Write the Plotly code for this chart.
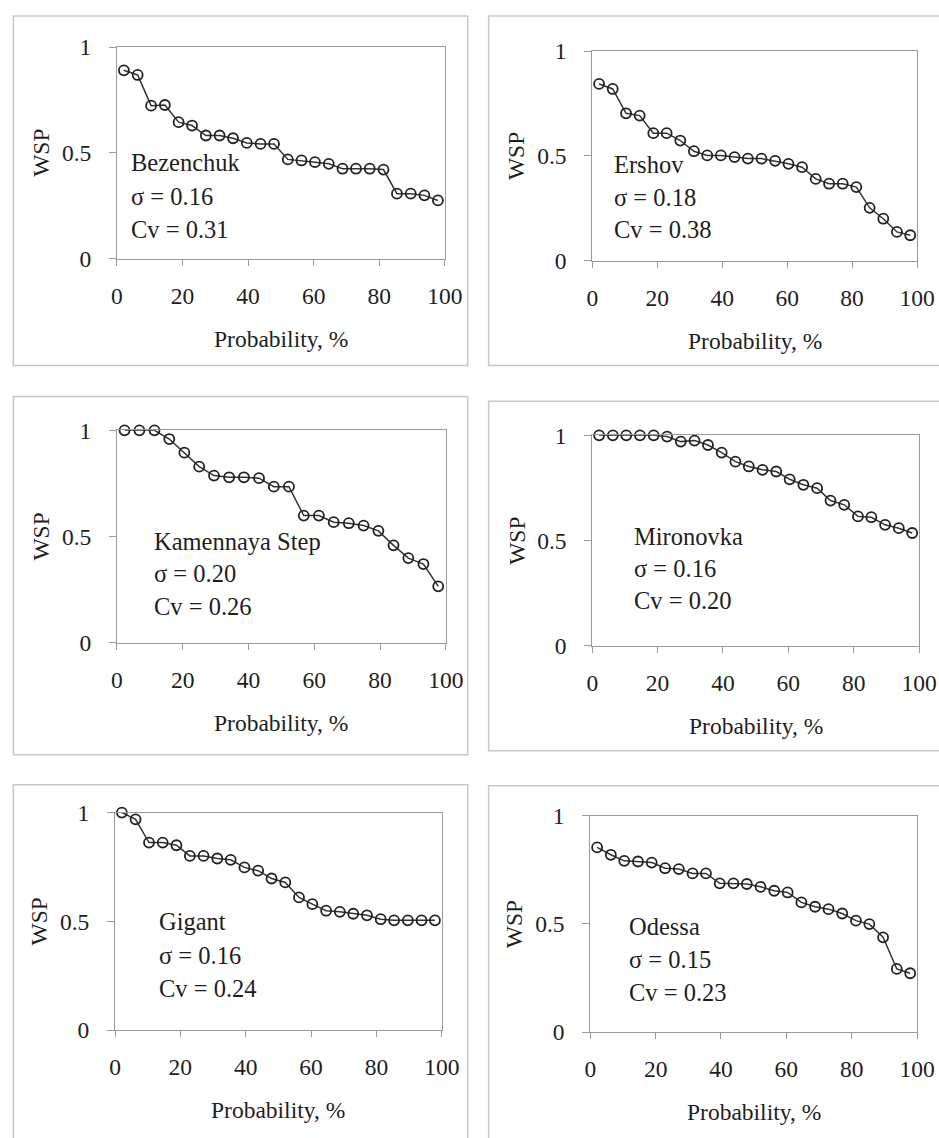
import plotly.graph_objects as go

# ---------------- data ----------------
prob_24 = [2.1, 6.3, 10.4, 14.6, 18.8, 22.9, 27.1, 31.3, 35.4, 39.6, 43.8, 47.9,
           52.1, 56.3, 60.4, 64.6, 68.8, 72.9, 77.1, 81.3, 85.4, 89.6, 93.8, 97.9]
prob_22 = [2.3, 6.8, 11.4, 15.9, 20.5, 25.0, 29.5, 34.1, 38.6, 43.2, 47.7,
           52.3, 56.8, 61.4, 65.9, 70.5, 75.0, 79.5, 84.1, 88.6, 93.2, 97.7]

wsp_bezenchuk = [0.89, 0.868, 0.723, 0.726, 0.645, 0.629, 0.582, 0.582, 0.569, 0.547, 0.542, 0.542,
                 0.469, 0.464, 0.456, 0.448, 0.425, 0.425, 0.425, 0.421, 0.307, 0.307, 0.299, 0.275]
wsp_ershov = [0.843, 0.819, 0.703, 0.692, 0.608, 0.608, 0.573, 0.522, 0.502, 0.502, 0.494, 0.487,
              0.487, 0.476, 0.462, 0.446, 0.390, 0.367, 0.367, 0.351, 0.252, 0.200, 0.137, 0.121]
wsp_kamennaya = [1.0, 1.0, 1.0, 0.959, 0.895, 0.829, 0.787, 0.779, 0.779, 0.775, 0.735,
                 0.735, 0.599, 0.599, 0.568, 0.563, 0.552, 0.527, 0.459, 0.399, 0.371, 0.266]
wsp_mironovka = [1.0, 1.0, 1.0, 1.0, 1.0, 0.994, 0.970, 0.975, 0.954, 0.918, 0.875, 0.852,
                 0.836, 0.828, 0.791, 0.765, 0.749, 0.690, 0.670, 0.615, 0.611, 0.575, 0.559, 0.536]
wsp_gigant = [1.0, 0.969, 0.862, 0.862, 0.850, 0.801, 0.801, 0.789, 0.783, 0.748, 0.733, 0.697,
              0.679, 0.610, 0.579, 0.549, 0.544, 0.535, 0.528, 0.510, 0.505, 0.505, 0.505, 0.505]
wsp_odessa = [0.853, 0.819, 0.791, 0.788, 0.783, 0.757, 0.753, 0.733, 0.733, 0.687, 0.687, 0.684,
              0.671, 0.653, 0.645, 0.599, 0.579, 0.568, 0.548, 0.515, 0.499, 0.438, 0.292, 0.272]

stations = ["Bezenchuk", "Ershov", "Kamennaya Step", "Mironovka", "Gigant", "Odessa"]
sigmas = ["0.16", "0.18", "0.20", "0.16", "0.16", "0.15"]
cvs = ["0.31", "0.38", "0.26", "0.20", "0.24", "0.23"]
x_series = [prob_24, prob_24, prob_22, prob_24, prob_24, prob_24]
y_series = [wsp_bezenchuk, wsp_ershov, wsp_kamennaya, wsp_mironovka, wsp_gigant, wsp_odessa]

x_ticks = [0, 20, 40, 60, 80, 100]
y_ticks = [0, 0.5, 1]
y_tick_text = ["0", "0.5", "1"]
x_title = "Probability, %"
y_title = "WSP"

# ---------------- layout (pixels, as measured on the target) ----------------
W, H = 939, 1138
SX, OX, SY, OY = 0.978, 5.6, 0.979, 8.9   # observed capture transform compensation


def fx(px):
    return (px - OX) / SX / W


def fy(py):
    return 1 - (py - OY) / SY / H


plot_px = [  # x0, x1, ytop, ybottom
    (117, 446, 43, 255),
    (594, 920, 47, 257),
    (117, 447, 427, 640),
    (594, 922, 432, 643),
    (115, 443, 810, 1028),
    (592, 920, 813, 1030),
]
box_px = [
    (13, 469, 12, 362),
    (490, 960, 12, 362),
    (13, 469, 393, 752),
    (490, 960, 398, 748),
    (13, 469, 782, 1160),
    (490, 960, 783, 1160),
]
# label anchor positions (data coords: x, y of first line, line step)
label_pos = [
    (3.6, 0.452, 0.158),
    (6.2, 0.458, 0.155),
    (10.6, 0.479, 0.153),
    (12.2, 0.520, 0.153),
    (12.8, 0.498, 0.154),
    (11.3, 0.486, 0.152),
]

FONT = "Liberation Serif, Times New Roman, serif"
TXT = "#1e1e1e"
AX = "#9a9a9a"
FS_TICK = 23.5
FS_TITLE = 23.5
FS_LABEL = 24.5

fig = go.Figure()
layout = dict(
    autosize=True,
    margin=dict(l=0, r=0, t=0, b=0),
    paper_bgcolor="white", plot_bgcolor="white",
    showlegend=False,
    font=dict(family=FONT, color=TXT, size=22),
)
annotations = []
shapes = []

for i in range(6):
    k = "" if i == 0 else str(i + 1)
    x0, x1, yt, yb = plot_px[i]
    fig.add_trace(go.Scatter(
        x=x_series[i], y=y_series[i], mode="lines+markers",
        xaxis="x" + k, yaxis="y" + k,
        line=dict(color="#333333", width=1.5),
        marker=dict(symbol="circle-open", size=10, color="#222222",
                    line=dict(width=1.8, color="#222222")),
        cliponaxis=False,
    ))
    layout["xaxis" + k] = dict(
        domain=[fx(x0), fx(x1)], range=[0, 100], anchor="y" + k,
        tickvals=x_ticks, ticks="outside", ticklen=6, tickcolor=AX,
        showline=True, linecolor=AX, linewidth=1, mirror=True,
        showgrid=False, zeroline=False, ticklabelstandoff=10,
        tickfont=dict(family=FONT, size=FS_TICK, color=TXT),
    )
    layout["yaxis" + k] = dict(
        domain=[fy(yb), fy(yt)], range=[0, 1], anchor="x" + k,
        tickvals=y_ticks, ticktext=y_tick_text, ticks="outside", ticklen=7, tickcolor=AX,
        showline=True, linecolor=AX, linewidth=1, mirror=True,
        showgrid=False, zeroline=False, ticklabelstandoff=13,
        tickfont=dict(family=FONT, size=FS_TICK, color=TXT),
    )
    # axis titles
    annotations.append(dict(
        text=x_title, xref="x" + k + " domain", yref="y" + k + " domain",
        x=0.5, y=0, yshift=-80, xanchor="center", yanchor="middle", showarrow=False,
        font=dict(family=FONT, size=FS_TITLE, color=TXT)))
    annotations.append(dict(
        text=y_title, xref="x" + k + " domain", yref="y" + k + " domain",
        x=0, y=0.5, xshift=-76, xanchor="center", yanchor="middle", showarrow=False,
        textangle=-90, font=dict(family=FONT, size=FS_TITLE, color=TXT)))
    # station labels
    lx, ly, step = label_pos[i]
    lines = [stations[i], "\u03c3 = " + sigmas[i], "Cv = " + cvs[i]]
    for j, t in enumerate(lines):
        annotations.append(dict(
            text=t, xref="x" + k, yref="y" + k, x=lx, y=ly - j * step,
            xanchor="left", yanchor="middle", showarrow=False,
            font=dict(family=FONT, size=FS_LABEL, color=TXT)))
    # panel box
    bx0, bx1, by0, by1 = box_px[i]
    shapes.append(dict(
        type="rect", xref="paper", yref="paper",
        x0=fx(bx0), x1=fx(bx1), y0=fy(by1), y1=fy(by0),
        line=dict(color="#c8c8c8", width=1.5), layer="below"))

layout["annotations"] = annotations
layout["shapes"] = shapes
fig.update_layout(**layout)
post = ("document.documentElement.style.margin='0px';"
        "document.body.style.margin='0px';document.body.style.overflow='hidden';"
        "var gd=document.getElementById('{plot_id}');"
        "gd.style.width='100vw';gd.style.height='100vh';"
        "Plotly.Plots.resize(gd);")
fig.write_html("out.html", default_width="100vw", default_height="100vh",
               config={"displayModeBar": False, "responsive": True},
               post_script=post)
